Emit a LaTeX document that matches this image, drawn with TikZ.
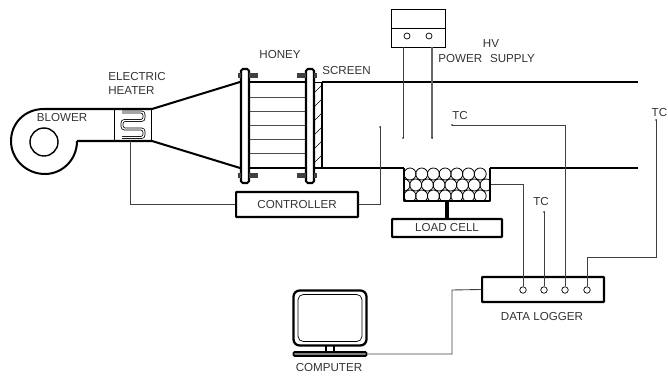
\documentclass[tikz,border=0pt]{standalone}
\usepackage{fontspec}
\setmainfont{Liberation Sans}
\tikzset{
  thickline/.style={line width=1.15pt},
  thinline/.style={line width=0.5pt, black!75},
  lbl/.style={font=\fontsize{6.6}{8}\selectfont, text=black!80, inner sep=0pt},
  unitbox/.style={draw, line width=1.15pt, rounded corners=0.3pt, inner sep=0pt, font=\fontsize{6.6}{8}\selectfont, text=black!80},
  port/.style={draw, circle, line width=0.4pt, inner sep=0pt, minimum size=0.13cm},
}
\begin{document}
\begin{tikzpicture}[x=0.02cm, y=-0.02cm]
  \useasboundingbox (0,0) rectangle (668,377);
  % blower, heater and contraction
  \draw[thickline, line join=round] (77,141) .. controls (77,160) and (62,174) .. (45,174) .. controls (26,174) and (11,159) .. (11,141) .. controls (11,124) and (24,109) .. (44,109) -- (152,109) -- (240,82);
  \draw[thickline] (77,141) -- (152,141) -- (240,168);
  \draw[line width=0.8pt] (44,142) circle [radius=14];
  \draw[line width=0.4pt] (114,109) -- (114,141);
  \draw[line width=0.4pt] (151,109) -- (151,141);
  \draw[line width=0.45pt, double=white, double distance=0.75pt, rounded corners=1.6pt] (122,112) -- (144,112) -- (144,120.5) -- (122,120.5) -- (122,129) -- (144,129) -- (144,137.5) -- (122,137.5);
  % honeycomb and screen
  \foreach \y in {97,111,125,139,153} \draw[line width=0.4pt, black!70] (249,\y) -- (306,\y);
  \draw[thickline] (249,82) -- (306,82);
  \draw[thickline] (249,168) -- (306,168);
  \foreach \y in {90,104,118,132,146,160} \draw[line width=0.35pt] (314,\y+3) -- (322,\y-5);
  \draw[line width=0.4pt] (314,82) -- (322,82);
  \draw[thickline] (322,82) -- (322,168);
  % flanges with bolts
  \foreach \x/\a/\b/\c/\d in {241/238/241/249/258,306/297/306/314/317} {
    \draw[thickline, fill=white, rounded corners=1pt] (\x,69) rectangle (\x+8,183);
    \foreach \y in {76,176} {
      \fill[black!75] (\a,\y-2.5) rectangle (\b,\y+2.5);
      \fill[black!75] (\c,\y-2.5) rectangle (\d,\y+2.5);
    }
  }
  % tunnel
  \draw[thickline] (322,82) -- (638,82);
  \draw[thickline] (314,168) -- (404,168);
  \draw[thickline] (490,168) -- (638,168);
  % particle bed
  \begin{scope}
    \clip (404,168) rectangle (490,201);
    \foreach \x in {0,...,6} {
      \draw[line width=0.45pt] (410+\x*11.7,174) circle [radius=6];
      \draw[line width=0.45pt] (404+\x*11.7,185) circle [radius=6];
      \draw[line width=0.45pt] (410+\x*11.7,196) circle [radius=6];
    }
    \draw[line width=0.45pt] (486,185) circle [radius=6];
  \end{scope}
  \draw[thickline, line width=1.3pt, line join=round] (404,168) -- (404,201) -- (490,201) -- (490,168);
  \node[unitbox, minimum width=2.2cm, minimum height=0.36cm] (loadcell) at (447,228) {LOAD CELL};
  \draw[line width=2.4pt] (447,201) -- (loadcell.north);
  % units
  \node[unitbox, minimum width=2.44cm, minimum height=0.5cm] (controller) at (297,204.5) {CONTROLLER};
  \node[unitbox, minimum width=2.44cm, minimum height=0.5cm] (logger) at (543,289.5) {};
  \node[draw, line width=0.5pt, inner sep=0pt, minimum width=1.08cm, minimum height=0.38cm] (hvbox) at (418,18.5) {};
  \node[draw, line width=0.5pt, inner sep=0pt, minimum width=1.08cm, minimum height=0.38cm] (hvpanel) at (418,37.5) {};
  \node[port, minimum size=0.12cm] (hvl) at (407,36) {};
  \node[port, minimum size=0.12cm] (hvr) at (429,36) {};
  % computer
  \node[draw, line width=1.3pt, rounded corners=3.5pt, inner sep=0pt, minimum width=1.46cm, minimum height=1.1cm] (screen) at (330,318) {};
  \node[draw, line width=0.4pt, rounded corners=3pt, inner sep=0pt, minimum width=1.28cm, minimum height=0.94cm] (glass) at (330,318) {};
  \node[draw, fill=black!50, line width=0.9pt, rounded corners=0.5pt, inner sep=0pt, minimum width=1.46cm, minimum height=0.08cm] (base) at (330,354) {};
  \draw[line width=0.7pt] (326,346) -- (326,352);
  \draw[line width=0.7pt] (334,346) -- (334,352);
  % logger ports
  \foreach \n/\x in {a/523,b/544,c/565,d/587} \node[port] (p\n) at (\x,290) {};
  % free wire ends
  \coordinate (hvendl) at (403,138);
  \coordinate (hvendr) at (432,138);
  \coordinate (ctrlend) at (380,127);
  \coordinate (tca) at (452,125);
  \coordinate (tcb) at (544,212);
  \coordinate (tcc) at (656,120);
  \coordinate (heatertap) at (130,141);
  \coordinate (trayside) at (491,184);
  % wires
  \draw[thinline] (hvpanel.south -| hvendl) -- (hvendl);
  \draw[line width=0.6pt, black!60] (hvpanel.south -| hvendr) -- (hvendr);
  \draw[thinline] (heatertap) |- (controller.west);
  \draw[thinline] (controller.east) -| (ctrlend);
  \draw[thinline] (trayside) -| (pa);
  \draw[thinline] (tcb) -- (pb);
  \draw[thinline] (tca) -| (pc);
  \draw[thinline] (pd) |- (656,257) -- (tcc);
  \draw[thinline] (base.east) -| (452,290) -- (logger.west);
  \foreach \c in {hvendl,hvendr,ctrlend,tca,tcb,tcc} \fill[black!80] (\c) circle [radius=1];
  % labels
  \node[lbl, anchor=west] (heatera) at (108,77) {ELECTRIC};
  \node[lbl, anchor=west] (heaterb) at (108,91) {HEATER};
  \node[lbl] (blower) at (62,118) {BLOWER};
  \node[lbl] (honey) at (280,55) {HONEY};
  \node[lbl, anchor=west] (scrn) at (322,71) {SCREEN};
  \node[lbl] (hv) at (491,44) {HV};
  \node[lbl, anchor=west] (psu) at (438,59) {POWER\hspace{4.5pt}SUPPLY};
  \node[lbl] (tclabela) at (460,116) {TC};
  \node[lbl] (tclabelb) at (541,202) {TC};
  \node[lbl, anchor=east] (tclabelc) at (667.5,113) {TC};
  \node[lbl] (loggerlabel) at (542,317) {DATA LOGGER};
  \node[lbl] (computer) at (329,368) {COMPUTER};
\end{tikzpicture}
\end{document}
